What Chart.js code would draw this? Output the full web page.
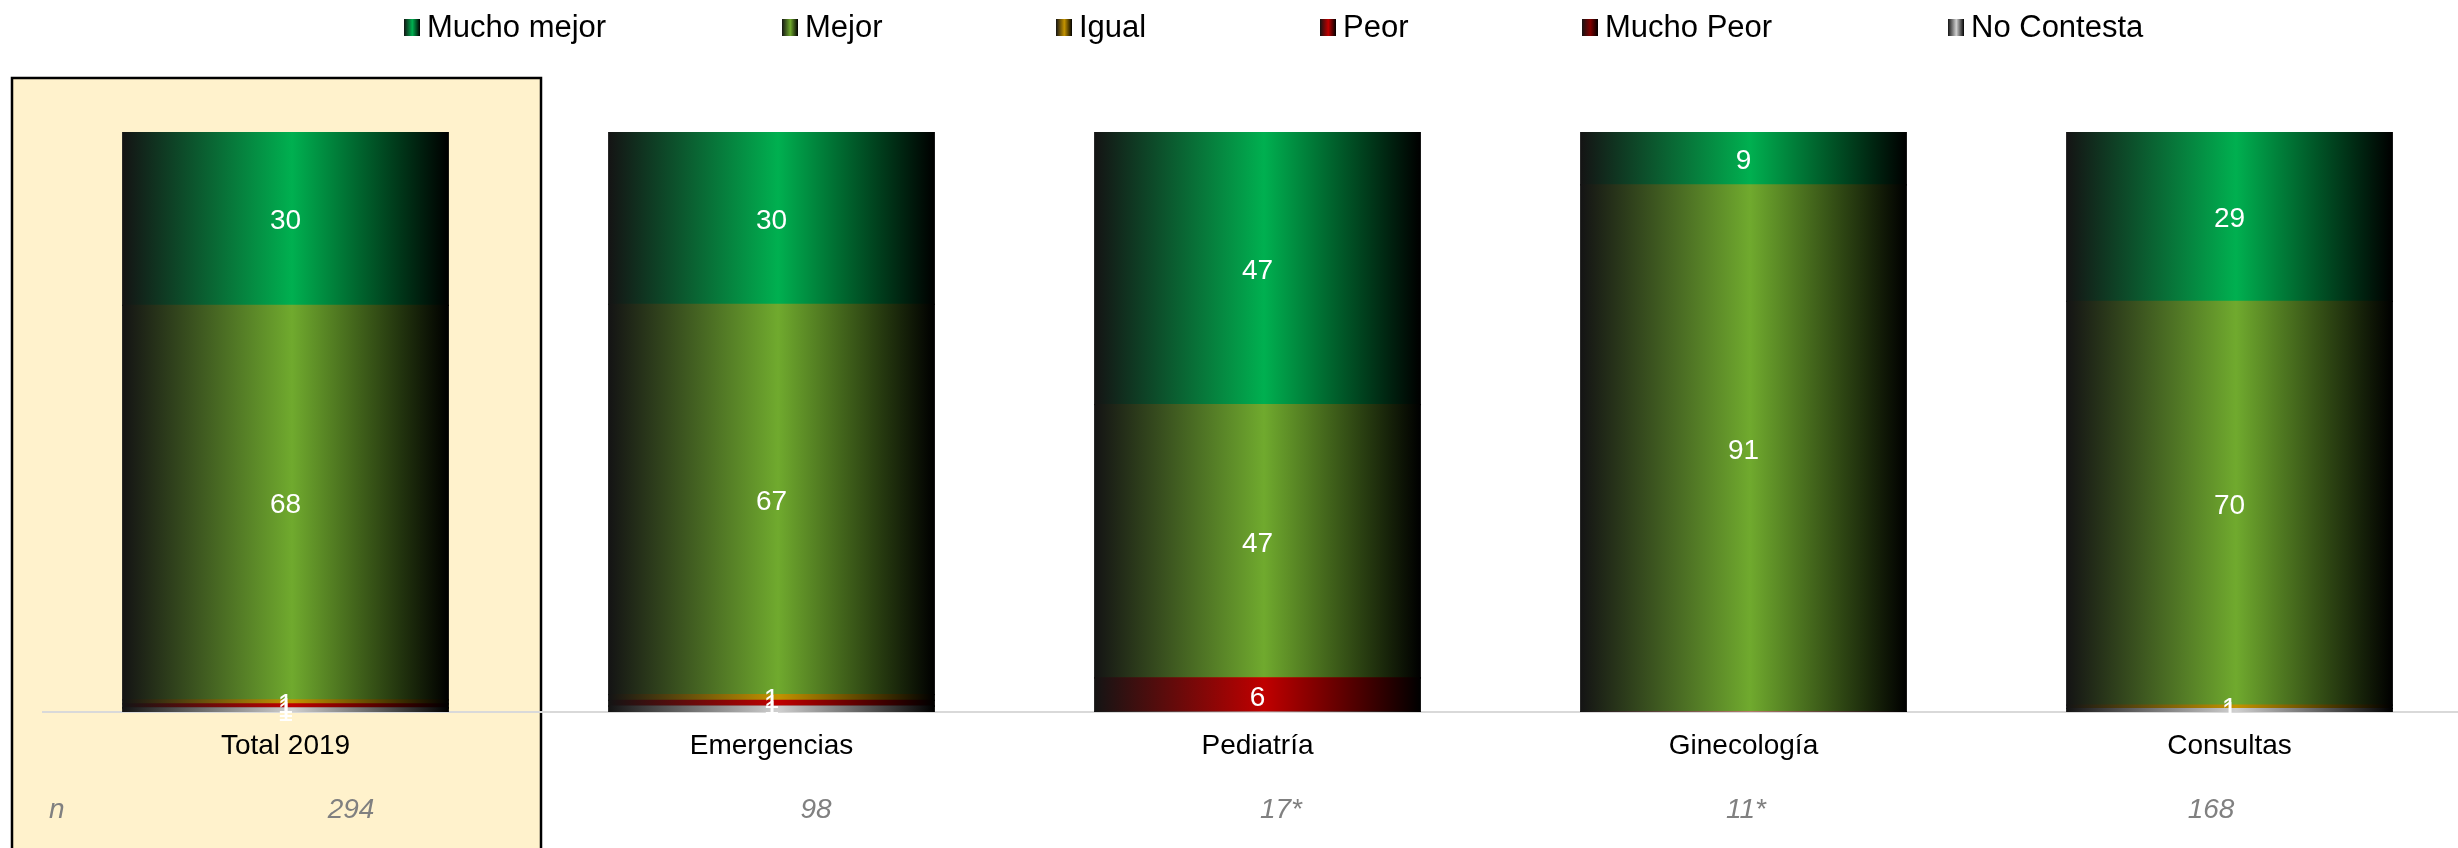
<!DOCTYPE html>
<html>
<head>
<meta charset="utf-8">
<script src="https://cdn.jsdelivr.net/npm/chart.js@4.4.1/dist/chart.umd.min.js"></script>
<style>
  html, body { margin: 0; padding: 0; background: #fff; overflow: hidden; }
  #wrap { position: relative; width: 2473px; height: 848px; }
</style>
</head>
<body>
<div id="wrap"><canvas id="chart"></canvas></div>
<script>
// categorías y valores (%)
const CATEGORIES = ['Total 2019', 'Emergencias', 'Pediatría', 'Ginecología', 'Consultas'];
const N_LABELS = ['294', '98', '17*', '11*', '168'];

const MUCHO_MEJOR = [29.9, 29.6, 47.1, 9.1, 29.2];
const MEJOR       = [68.0, 67.3, 47.1, 90.9, 69.6];
const IGUAL       = [0.7, 1.0, 0, 0, 0.6];
const PEOR        = [0.7, 1.0, 5.9, 0, 0];
const MUCHO_PEOR  = [0, 0, 0, 0, 0];
const NO_CONTESTA = [0.7, 1.0, 0, 0, 0.6];

const BAR_PCT = 0.67;
const FONT = "'Liberation Sans', Arial, sans-serif";

// posiciones de la leyenda y de la fila "n" (como en la hoja original)
const LEGEND_X = [404, 782, 1056, 1320, 1582, 1948];
const LEGEND_Y = 28;
const N_ROW_X0 = 351, N_ROW_STEP = 465, N_ROW_Y = 810;

function barFill(color) {
  return function (ctx) {
    const chart = ctx.chart;
    const x = chart.scales.x;
    if (!x || ctx.dataIndex === undefined || !chart.chartArea) return color;
    const c = x.getPixelForValue(ctx.dataIndex);
    const half = x.width / CATEGORIES.length * BAR_PCT / 2;
    const g = chart.ctx.createLinearGradient(c - half, 0, c + half, 0);
    g.addColorStop(0, '#141414');
    g.addColorStop(0.52, color);
    g.addColorStop(1, '#000000');
    return g;
  };
}

// de abajo hacia arriba
const SERIES = [
  { label: 'No Contesta', data: NO_CONTESTA, color: '#D0D0D0' },
  { label: 'Mucho Peor', data: MUCHO_PEOR, color: '#800000' },
  { label: 'Peor', data: PEOR, color: '#C00000' },
  { label: 'Igual', data: IGUAL, color: '#C49300' },
  { label: 'Mejor', data: MEJOR, color: '#70AA2E' },
  { label: 'Mucho mejor', data: MUCHO_MEJOR, color: '#00B050' }
];
const LEGEND_ORDER = ['Mucho mejor', 'Mejor', 'Igual', 'Peor', 'Mucho Peor', 'No Contesta'];

const highlightBox = {
  id: 'highlightBox',
  beforeDraw(chart) {
    const c = chart.ctx;
    c.save();
    c.fillStyle = '#FFF2CC';
    c.fillRect(12, 78, 529, 780);
    c.strokeStyle = '#000';
    c.lineWidth = 2.5;
    c.strokeRect(12, 78, 529, 780);
    c.restore();
  }
};

const segmentLabels = {
  id: 'segmentLabels',
  afterDatasetsDraw(chart) {
    const c = chart.ctx;
    c.save();
    c.fillStyle = '#fff';
    c.font = '28px ' + FONT;
    c.textAlign = 'center';
    c.textBaseline = 'middle';
    chart.data.datasets.forEach(function (ds, di) {
      chart.getDatasetMeta(di).data.forEach(function (el, i) {
        const v = ds.data[i];
        if (!v) return;
        c.fillText(Math.round(v), el.x, (el.y + el.base) / 2 + 3);
      });
    });
    c.restore();
  }
};

const legendAndN = {
  id: 'legendAndN',
  afterDraw(chart) {
    const c = chart.ctx;
    c.save();
    c.font = '31px ' + FONT;
    c.textBaseline = 'middle';
    c.textAlign = 'left';
    LEGEND_ORDER.forEach(function (name, i) {
      const s = SERIES.find(function (d) { return d.label === name; });
      const x0 = LEGEND_X[i];
      const g = c.createLinearGradient(x0, 0, x0 + 16, 0);
      g.addColorStop(0, '#141414');
      g.addColorStop(0.52, s.color);
      g.addColorStop(1, '#000');
      c.fillStyle = g;
      c.fillRect(x0, LEGEND_Y - 9, 16, 17);
      c.fillStyle = '#000';
      c.fillText(name, x0 + 23, LEGEND_Y);
    });
    c.font = 'italic 28px ' + FONT;
    c.fillStyle = '#808080';
    c.fillText('n', 49, N_ROW_Y);
    c.textAlign = 'center';
    N_LABELS.forEach(function (t, i) {
      c.fillText(t, N_ROW_X0 + i * N_ROW_STEP, N_ROW_Y);
    });
    c.restore();
  }
};

new Chart(document.getElementById('chart'), {
  type: 'bar',
  data: {
    labels: CATEGORIES,
    datasets: SERIES.map(function (s) {
      return {
        label: s.label,
        data: s.data,
        backgroundColor: barFill(s.color),
        borderWidth: 0,
        inflateAmount: 0.6,
        barPercentage: BAR_PCT,
        categoryPercentage: 1
      };
    })
  },
  options: {
    responsive: true,
    maintainAspectRatio: false,
    animation: false,
    layout: { padding: { top: 132, left: 42.5, right: 0.5, bottom: 0 } },
    plugins: { legend: { display: false }, tooltip: { enabled: false } },
    scales: {
      x: {
        stacked: true,
        grid: { display: false, drawTicks: false },
        border: { display: true, color: '#D9D9D9', width: 2 },
        ticks: { color: '#000', font: { family: FONT, size: 28 }, padding: 17 },
        afterFit: function (s) { s.height = 136; }
      },
      y: { stacked: true, display: false, min: 0, max: 100 }
    }
  },
  plugins: [highlightBox, segmentLabels, legendAndN]
});
</script>
</body>
</html>
